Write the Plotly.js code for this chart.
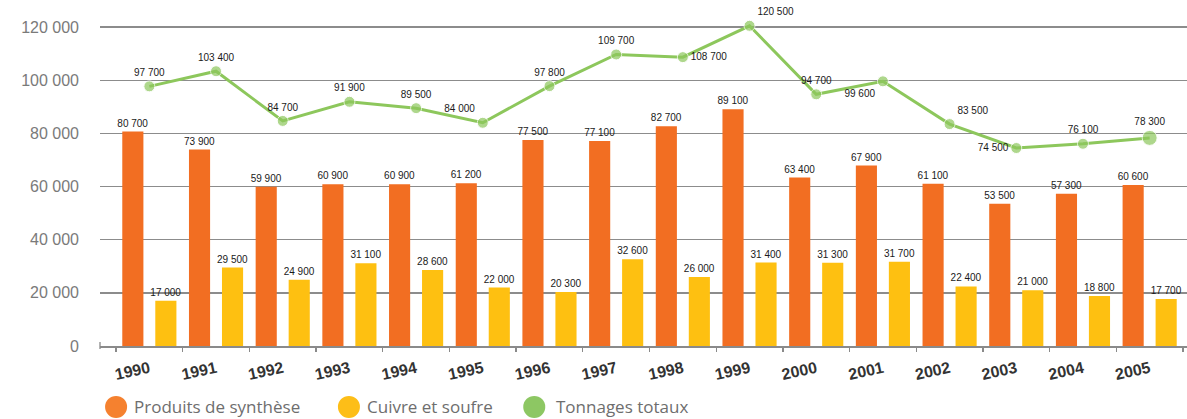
<!DOCTYPE html>
<html>
<head>
<meta charset="utf-8">
<script src="https://cdn.plot.ly/plotly-3.0.1.min.js"></script>
<style>
  html, body { margin: 0; padding: 0; background: #fff; }
  #chart { width: 1187px; height: 419px; }
</style>
</head>
<body>
<div id="chart"></div>
<script>
// Tonnages annuels (tonnes)
const years = ['1990','1991','1992','1993','1994','1995','1996','1997',
               '1998','1999','2000','2001','2002','2003','2004','2005'];
const produitsSynthese = [80700, 73900, 59900, 60900, 60900, 61200, 77500, 77100,
                          82700, 89100, 63400, 67900, 61100, 53500, 57300, 60600];
const cuivreSoufre = [17000, 29500, 24900, 31100, 28600, 22000, 20300, 32600,
                      26000, 31400, 31300, 31700, 22400, 21000, 18800, 17700];
const tonnagesTotaux = [97700, 103400, 84700, 91900, 89500, 84000, 97800, 109700,
                        108700, 120500, 94700, 99600, 83500, 74500, 76100, 78300];
const yTicks = [0, 20000, 40000, 60000, 80000, 100000, 120000];
const legendLabels = ['Produits de synthèse', 'Cuivre et soufre', 'Tonnages totaux'];

// Placement of the value labels along the total line
const totalLabelPos = ['top center','top center','top center','top center','top center',
                       'top left','top center','top center','middle right','top right',
                       'top center','bottom left','top right','middle left','top center','top center'];

const COL_ORANGE = '#F26E22';
const COL_YELLOW = '#FEC011';
const COL_GREEN = '#8DC75C';

function fmt(v) {
  return String(v).replace(/\B(?=(\d{3})+(?!\d))/g, ' ');
}

const labelFont = { family: 'Liberation Sans, Arial, sans-serif', size: 10, color: '#1a1a1a' };

const traces = [
  {
    type: 'bar', name: legendLabels[0], x: years, y: produitsSynthese,
    marker: { color: COL_ORANGE },
    text: produitsSynthese.map(fmt), textposition: 'outside', constraintext: 'none',
    textfont: labelFont, cliponaxis: false, showlegend: false, hoverinfo: 'x+y'
  },
  {
    type: 'bar', name: legendLabels[1], x: years, y: cuivreSoufre,
    marker: { color: COL_YELLOW },
    text: cuivreSoufre.map(fmt), textposition: 'outside', constraintext: 'none',
    textfont: labelFont, cliponaxis: false, showlegend: false, hoverinfo: 'x+y'
  },
  {
    type: 'scatter', mode: 'lines+markers+text', name: legendLabels[2],
    x: years, y: tonnagesTotaux,
    line: { color: COL_GREEN, width: 3 },
    marker: { color: COL_GREEN, size: tonnagesTotaux.map((v, i) => i === years.length - 1 ? 15 : 11) },
    text: tonnagesTotaux.map(fmt), textposition: totalLabelPos,
    textfont: labelFont, cliponaxis: false, showlegend: false, hoverinfo: 'x+y'
  }
];

// Hand-built legend below the plot: filled circles followed by text
const legendItems = [
  { color: '#F5812F', cx: 0.0148, tx: 0.0295 },
  { color: '#FDBE18', cx: 0.229,  tx: 0.2435 },
  { color: '#8DC763', cx: 0.3995, tx: 0.4175 }
];
const legendY = -0.176;

const shapes = legendItems.map(it => ({
  type: 'circle', xref: 'paper', yref: 'paper',
  xsizemode: 'pixel', ysizemode: 'pixel',
  xanchor: it.cx, yanchor: legendY,
  x0: -11, x1: 11, y0: -11, y1: 11,
  fillcolor: it.color, line: { width: 0 }
}));
// small tick at the left end of the category axis
shapes.push({
  type: 'line', xref: 'paper', yref: 'paper', ysizemode: 'pixel',
  yanchor: 0, x0: 0, x1: 0, y0: -3, y1: 4,
  line: { color: '#8a8a8a', width: 1.3 }
});

const annotations = legendItems.map((it, i) => ({
  xref: 'paper', yref: 'paper', x: it.tx, y: legendY,
  xanchor: 'left', yanchor: 'middle', showarrow: false,
  text: legendLabels[i],
  font: { family: 'Open Sans, Noto Sans, sans-serif', size: 17, color: '#6e6e6e' }
}));

const layout = {
  width: 1187, height: 419,
  margin: { l: 100, r: 0, t: 0, b: 73 },
  paper_bgcolor: '#fff', plot_bgcolor: '#fff',
  barmode: 'group', bargap: 0.01, bargroupgap: 0.36,
  separators: ', ',
  showlegend: false,
  xaxis: {
    type: 'category', range: [-0.74, 15.56],
    tickson: 'boundaries', ticks: 'outside', ticklen: 4,
    tickcolor: '#8a8a8a', tickwidth: 1.3,
    showgrid: false, showline: true, linecolor: '#8a8a8a', linewidth: 1.5,
    tickangle: -12, ticklabelstandoff: 6,
    tickfont: { family: 'Liberation Sans, Arial, sans-serif', size: 16, color: '#333', weight: 'bold' }
  },
  yaxis: {
    range: [0, 130200], tickvals: yTicks, tickformat: ',d',
    showgrid: true, gridcolor: '#8c8c8c', gridwidth: 1.3,
    zeroline: false, showline: false, ticks: '',
    ticklabelstandoff: 20,
    tickfont: { family: 'Liberation Sans, Arial, sans-serif', size: 16, color: '#7a7a7a' }
  },
  shapes: shapes,
  annotations: annotations
};

Plotly.newPlot('chart', traces, layout, { displayModeBar: false, staticPlot: true });
</script>
</body>
</html>
